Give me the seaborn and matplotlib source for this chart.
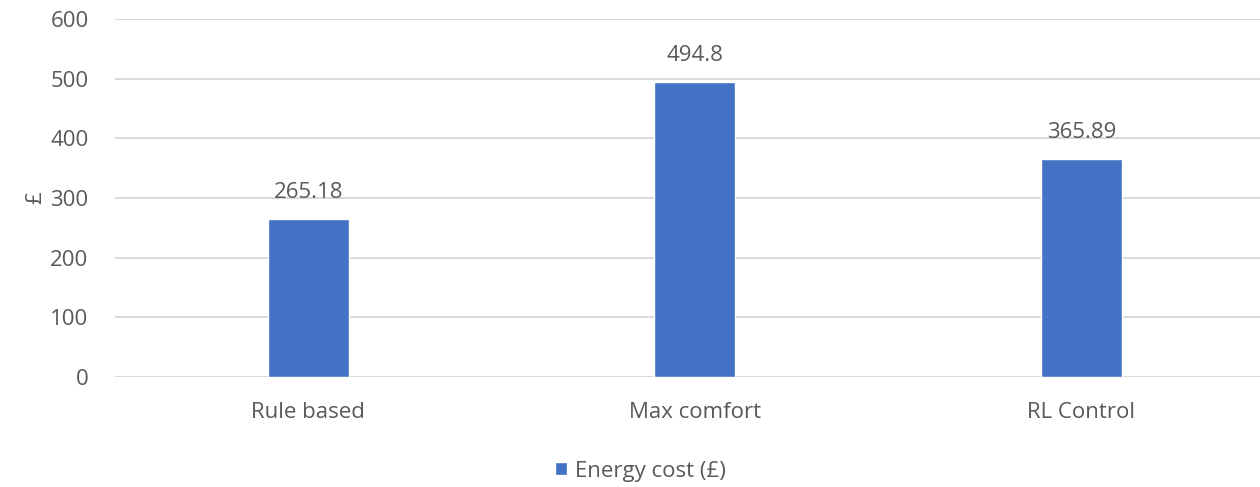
import matplotlib
matplotlib.use("Agg")
import matplotlib.pyplot as plt
import seaborn as sns
import pandas as pd

categories = ["Rule based", "Max comfort", "RL Control"]
energy_cost = [265.18, 494.8, 365.89]
value_labels = ["265.18", "494.8", "365.89"]
series_name = "Energy cost (£)"
y_ticks = [0, 100, 200, 300, 400, 500, 600]

sns.set_theme(style="white")
plt.rcParams["font.family"] = ["Open Sans", "DejaVu Sans"]

text_color = "#595959"
bar_color = "#4472C4"
grid_color = "#D9D9D9"
fs = 16

fig = plt.figure(figsize=(12.6, 4.87), dpi=100)
W, H = 1260, 487
left, right, top, bottom = 115, 1274.5, 19, 377
ax = fig.add_axes([left / W, 1 - bottom / H, (right - left) / W, (bottom - top) / H])

df = pd.DataFrame({"category": categories, "cost": energy_cost})
sns.barplot(data=df, x="category", y="cost", color=bar_color, width=0.21,
            saturation=1, label=series_name, ax=ax, zorder=3)

ax.set_xlim(-0.5, 2.5)
ax.set_ylim(0, 600)
ax.set_yticks(y_ticks)
ax.yaxis.grid(True, color=grid_color, linewidth=1.4, zorder=0)
ax.xaxis.grid(False)
for s in ax.spines.values():
    s.set_visible(False)
ax.tick_params(axis="both", length=0, labelsize=fs, labelcolor=text_color)
ax.tick_params(axis="y", pad=19)
ax.tick_params(axis="x", pad=18)
ax.set_xlabel("")
ax.set_ylabel("£", fontsize=fs, color=text_color, labelpad=3)

ax.bar_label(ax.containers[0], labels=value_labels, padding=11,
             fontsize=fs, color=text_color)

if ax.get_legend() is not None:
    ax.get_legend().remove()
handles, labels = ax.get_legend_handles_labels()
fig.legend(handles, labels, loc="center", bbox_to_anchor=(640 / W, 1 - 471 / H),
           frameon=False, fontsize=fs, labelcolor=text_color,
           handlelength=0.55, handleheight=0.55, handletextpad=0.35)

fig.savefig("out.png", dpi=100)
